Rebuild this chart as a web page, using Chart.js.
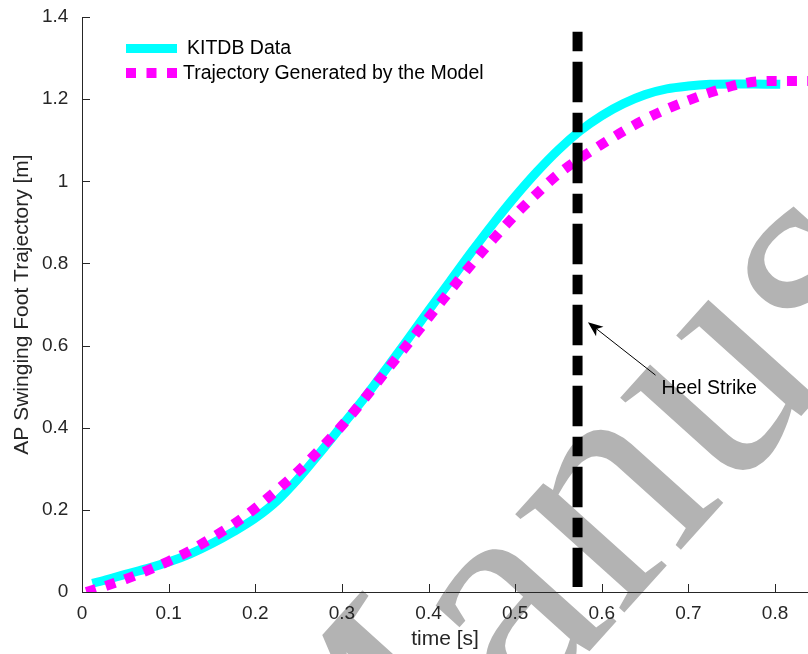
<!DOCTYPE html>
<html><head><meta charset="utf-8">
<script src="https://cdn.jsdelivr.net/npm/chart.js@4/dist/chart.umd.min.js"></script>
<style>html,body{margin:0;padding:0;background:#fff;overflow:hidden}canvas{display:block}</style>
</head><body>
<canvas id="c" width="808" height="654"></canvas>
<script>
// ---- data ----
const kitTime = [0.012,0.03,0.05,0.075,0.1,0.125,0.15,0.175,0.2,0.225,0.25,0.275,0.3,0.325,0.35,0.375,0.4,0.425,0.45,0.475,0.5,0.525,0.55,0.575,0.6,0.625,0.65,0.675,0.7,0.725,0.75,0.775,0.806];
const kitPos  = [0.021,0.031,0.043,0.057,0.073,0.093,0.118,0.147,0.180,0.222,0.277,0.340,0.405,0.470,0.540,0.612,0.685,0.757,0.829,0.898,0.963,1.023,1.077,1.123,1.160,1.189,1.211,1.225,1.232,1.236,1.237,1.237,1.236];
const modelTime = [0.005,0.025,0.05,0.075,0.1,0.125,0.15,0.175,0.2,0.225,0.25,0.275,0.3,0.325,0.35,0.375,0.4,0.425,0.45,0.475,0.5,0.525,0.55,0.575,0.6,0.625,0.65,0.675,0.7,0.725,0.75,0.765,0.78,0.8,0.838];
const modelPos  = [0.0,0.013,0.031,0.052,0.075,0.101,0.132,0.165,0.204,0.248,0.295,0.348,0.405,0.468,0.535,0.601,0.668,0.734,0.799,0.860,0.918,0.970,1.018,1.056,1.090,1.122,1.151,1.176,1.197,1.216,1.232,1.239,1.243,1.244,1.244];
const heelStrikeTime = 0.572;
const heelStrikeRange = [1.364, 0.012];
const xTickValues = [0,0.1,0.2,0.3,0.4,0.5,0.6,0.7,0.8];
const yTickValues = [0,0.2,0.4,0.6,0.8,1.0,1.2,1.4];
const seriesLabels = ['KITDB Data','Trajectory Generated by the Model'];
const xTitle = 'time [s]';
const yTitle = 'AP Swinging Foot Trajectory [m]';
const annotationText = 'Heel Strike';
const annotationTextAt = [0.669, 0.482];
const annotationArrowFrom = [0.662, 0.528];
const annotationArrowTo = [0.584, 0.657];
const watermarkText = 'Accepted Manuscript';

const CYAN = '#00ffff', MAGENTA = '#ff00ff', AXIS = '#262626';
const FONT = '"Liberation Sans", Arial, Helvetica, sans-serif';

function pts(xs, ys){ return xs.map((x,i)=>({x:x, y:ys[i]})); }

const watermark = {
  id:'watermark',
  beforeDraw(chart){
    const ctx = chart.ctx;
    ctx.save();
    ctx.fillStyle = '#fff';
    ctx.fillRect(0,0,chart.width,chart.height);
    ctx.fillStyle = '#b3b3b3';
    ctx.font = '320px "Liberation Serif", "DejaVu Serif", serif';
    ctx.translate(334, 935);
    ctx.rotate(-48*Math.PI/180);
    ctx.textBaseline = 'alphabetic';
    const pre = ctx.measureText('Accepted ').width;
    ctx.fillText(watermarkText, -pre, 0);
    ctx.restore();
  }
};

const inwardTicks = {
  id:'inwardTicks',
  afterDraw(chart){
    const {ctx, chartArea:a, scales:{x,y}} = chart;
    ctx.save();
    ctx.strokeStyle = AXIS; ctx.lineWidth = 1;
    ctx.beginPath();
    xTickValues.forEach(v=>{ const px = Math.round(x.getPixelForValue(v))+0.5; ctx.moveTo(px,a.bottom); ctx.lineTo(px,a.bottom-8); });
    yTickValues.forEach(v=>{ const py = Math.round(y.getPixelForValue(v))+0.5; ctx.moveTo(a.left,py); ctx.lineTo(a.left+8,py); });
    ctx.stroke();
    ctx.restore();
  }
};

const legendAndNote = {
  id:'legendAndNote',
  afterDraw(chart){
    const {ctx, chartArea:a, scales:{x,y}} = chart;
    ctx.save();
    const lx0 = a.left + 44, lx1 = a.left + 95;
    const ly0 = a.top + 31.5, ly1 = a.top + 56;
    ctx.lineCap = 'butt';
    ctx.strokeStyle = CYAN; ctx.lineWidth = 9; ctx.setLineDash([]);
    ctx.beginPath(); ctx.moveTo(lx0, ly0); ctx.lineTo(lx1, ly0); ctx.stroke();
    ctx.strokeStyle = MAGENTA; ctx.lineWidth = 10; ctx.setLineDash([10,10.5]);
    ctx.beginPath(); ctx.moveTo(lx0, ly1); ctx.lineTo(lx1, ly1); ctx.stroke();
    ctx.setLineDash([]);
    ctx.fillStyle = '#000';
    ctx.font = '19.5px ' + FONT;
    ctx.textBaseline = 'middle';
    ctx.fillText(seriesLabels[0], a.left + 105, ly0 + 0.5);
    ctx.fillText(seriesLabels[1], a.left + 101, ly1 + 0.5);
    const fx = x.getPixelForValue(annotationArrowFrom[0]), fy = y.getPixelForValue(annotationArrowFrom[1]);
    const tx = x.getPixelForValue(annotationArrowTo[0]), ty = y.getPixelForValue(annotationArrowTo[1]);
    ctx.strokeStyle = '#000'; ctx.lineWidth = 1;
    const ang = Math.atan2(ty-fy, tx-fx);
    const hl = 15, hw = 6;
    const bx = tx - hl*Math.cos(ang), by = ty - hl*Math.sin(ang);
    ctx.beginPath(); ctx.moveTo(fx,fy); ctx.lineTo(bx + 4*Math.cos(ang), by + 4*Math.sin(ang)); ctx.stroke();
    ctx.beginPath();
    ctx.moveTo(tx,ty);
    ctx.lineTo(bx - hw*Math.sin(ang), by + hw*Math.cos(ang));
    ctx.lineTo(bx + 4*Math.cos(ang), by + 4*Math.sin(ang));
    ctx.lineTo(bx + hw*Math.sin(ang), by - hw*Math.cos(ang));
    ctx.closePath(); ctx.fillStyle = '#000'; ctx.fill();
    ctx.font = '19.5px ' + FONT;
    ctx.textBaseline = 'alphabetic';
    ctx.fillText(annotationText, x.getPixelForValue(annotationTextAt[0]), y.getPixelForValue(annotationTextAt[1]));
    ctx.restore();
  }
};

new Chart(document.getElementById('c'), {
  type:'line',
  data:{ datasets:[
    { label: seriesLabels[0], data: pts(kitTime, kitPos), borderColor: CYAN, borderWidth: 9, pointRadius: 0, cubicInterpolationMode:'monotone', borderCapStyle:'butt', order: 3, fill:false },
    { label: seriesLabels[1], data: pts(modelTime, modelPos), borderColor: MAGENTA, borderWidth: 10, borderDash:[10,10.3], borderCapStyle:'butt', pointRadius: 0, cubicInterpolationMode:'monotone', order: 2, fill:false },
    { label: annotationText, data: [{x:heelStrikeTime, y:heelStrikeRange[0]},{x:heelStrikeTime, y:heelStrikeRange[1]}], borderColor:'#000', borderWidth: 10, borderDash:[19.5,10.5,40.5,10.5], borderCapStyle:'butt', pointRadius:0, order:1, fill:false }
  ]},
  options:{
    responsive:false, animation:false, devicePixelRatio:1,
    layout:{ padding:{ top:0, right:0, left:0, bottom:0 } },
    plugins:{ legend:{display:false}, tooltip:{enabled:false} },
    scales:{
      x:{ type:'linear', min:0, max:0.838,
        afterBuildTicks(s){ s.ticks = xTickValues.map(v=>({value:v})); },
        afterFit(s){ s.height = 62; },
        grid:{display:false}, border:{display:true, color:AXIS, width:1},
        ticks:{ color:AXIS, font:{family:FONT, size:19}, padding:2, maxRotation:0, autoSkip:false, callback:v=> String(+(+v).toFixed(1)) },
        title:{ display:true, text:xTitle, color:AXIS, font:{family:FONT, size:21}, padding:{top:0,bottom:2} }
      },
      y:{ type:'linear', min:0, max:1.4,
        afterBuildTicks(s){ s.ticks = yTickValues.map(v=>({value:v})); },
        afterFit(s){ s.width = 82; },
        grid:{display:false}, border:{display:true, color:AXIS, width:1},
        ticks:{ color:AXIS, font:{family:FONT, size:19}, padding:5.6, autoSkip:false, callback:v=> String(+(+v).toFixed(1)) },
        title:{ display:true, text:yTitle, color:AXIS, font:{family:FONT, size:21}, padding:{top:10,bottom:0} }
      }
    }
  },
  plugins:[watermark, inwardTicks, legendAndNote]
});
</script>
</body></html>
